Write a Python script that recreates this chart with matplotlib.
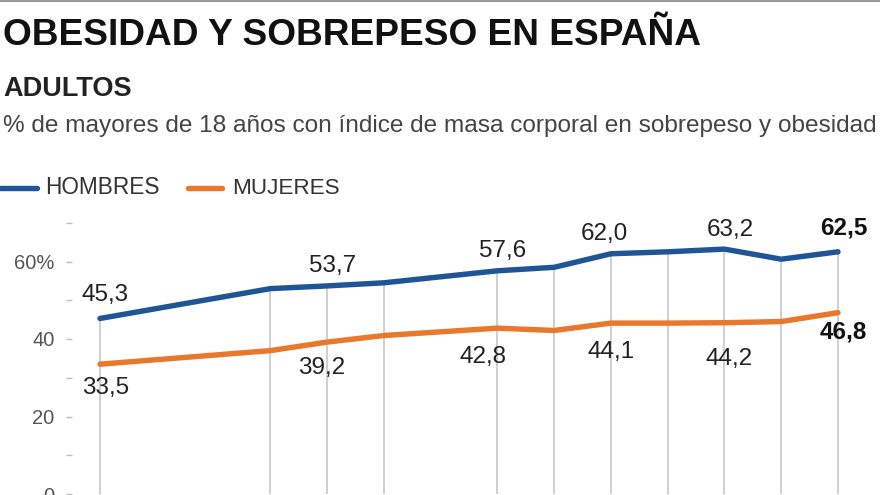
import matplotlib
matplotlib.use("Agg")
import matplotlib.pyplot as plt
from matplotlib.lines import Line2D

# ---- data ----
periods = [0, 3, 4, 5, 7, 8, 9, 10, 11, 12, 13]   # survey slots along the axis
hombres = [45.3, 53.0, 53.7, 54.5, 57.6, 58.5, 62.0, 62.5, 63.2, 60.6, 62.5]
mujeres = [33.5, 37.0, 39.2, 40.9, 42.8, 42.2, 44.1, 44.1, 44.2, 44.5, 46.8]
label_idx = [0, 2, 4, 6, 8, 10]
ytick_vals = [0, 20, 40, 60]
ytick_labels = ["0", "20", "40", "60%"]
minor_vals = [10, 30, 50, 70]

title = "OBESIDAD Y SOBREPESO EN ESPAÑA"
subtitle = "ADULTOS"
desc = "% de mayores de 18 años con índice de masa corporal en sobrepeso y obesidad"
series_names = ["HOMBRES", "MUJERES"]

BLUE = "#1f5597"
ORANGE = "#e8792c"
FONT = "Liberation Sans"
plt.rcParams["font.family"] = [FONT, "DejaVu Sans"]

W, H = 880, 495
fig = plt.figure(figsize=(W / 100, H / 100), dpi=100)
fig.patch.set_facecolor("white")

def fx(px):
    return px / W

def fy(py):
    return 1 - py / H

# axes: x index 0 -> 100px, 13 -> 838px ; y 0 -> 494px, 3.875 px/unit
ppu_x = (838 - 100) / 13.0
left_px, right_px = 72, 878
xmin = -(100 - left_px) / ppu_x
xmax = (right_px - 100) / ppu_x
ppu_y = 3.875
bottom_px = 494
ytop = 72
top_px = bottom_px - ytop * ppu_y
ax = fig.add_axes([fx(left_px), 1 - bottom_px / H, (right_px - left_px) / W, (bottom_px - top_px) / H])
ax.set_xlim(xmin, xmax)
ax.set_ylim(0, ytop)
for s in ax.spines.values():
    s.set_visible(False)
ax.set_xticks([])
ax.set_yticks(ytick_vals)
ax.set_yticklabels(ytick_labels)
ax.set_yticks(minor_vals, minor=True)
ax.tick_params(axis="y", which="both", length=4.5, width=1, color="#bdbdbd",
               direction="out", pad=8, labelsize=14.5, labelcolor="#555555")

# drop lines
ax.vlines(periods, 0, hombres, color="#cccccc", lw=1.3, zorder=1)

ax.plot(periods, hombres, color=BLUE, lw=3.9, solid_capstyle="round", solid_joinstyle="round", zorder=3)
ax.plot(periods, mujeres, color=ORANGE, lw=3.9, solid_capstyle="round", solid_joinstyle="round", zorder=3)

# value labels
h_off = [(4, 17), (4, 14), (4, 14), (-5, 14), (4, 14), (4, 17)]
m_off = [(4, -17), (-4, -19), (-10, -21), (0, -21), (3, -26), (4, -14)]
for k, i in enumerate(label_idx):
    last = (k == len(label_idx) - 1)
    w = "bold" if last else "normal"
    c = "#111111" if last else "#222222"
    ax.annotate(f"{hombres[i]:.1f}".replace(".", ","), (periods[i], hombres[i]),
                xytext=h_off[k], textcoords="offset points", ha="center", va="center",
                fontsize=17.5, fontweight=w, color=c, zorder=5)
    ax.annotate(f"{mujeres[i]:.1f}".replace(".", ","), (periods[i], mujeres[i]),
                xytext=m_off[k], textcoords="offset points", ha="center", va="center",
                fontsize=17.5, fontweight=w, color=c, zorder=5)

renderer = fig.canvas.get_renderer()

def fit_text(x, y, s, target_w, size, **kw):
    t = fig.text(x, y, s, fontsize=size, **kw)
    bb = t.get_window_extent(renderer=renderer)
    t.set_fontsize(size * target_w / bb.width)
    return t

fit_text(fx(3), fy(45), title, 698, 24, fontweight="bold", color="#111111", va="baseline", ha="left")
fit_text(fx(3), fy(96), subtitle, 129, 17, fontweight="bold", color="#222222", va="baseline", ha="left")
fit_text(fx(3), fy(132), desc, 875, 16, color="#444444", va="baseline", ha="left")

# legend
fig.add_artist(Line2D([fx(0), fx(37)], [fy(188), fy(188)], color=BLUE, lw=3.9, solid_capstyle="round"))
fig.add_artist(Line2D([fx(188), fx(222)], [fy(188), fy(188)], color=ORANGE, lw=3.9, solid_capstyle="round"))
fit_text(fx(45), fy(194), series_names[0], 115, 15, color="#333333", va="baseline", ha="left")
fit_text(fx(232), fy(194), series_names[1], 108, 15, color="#333333", va="baseline", ha="left")

# top border line
fig.add_artist(Line2D([0, 1], [fy(1), fy(1)], color="#9a9a9a", lw=1.5))

fig.savefig("out.png", dpi=100, facecolor="white")
